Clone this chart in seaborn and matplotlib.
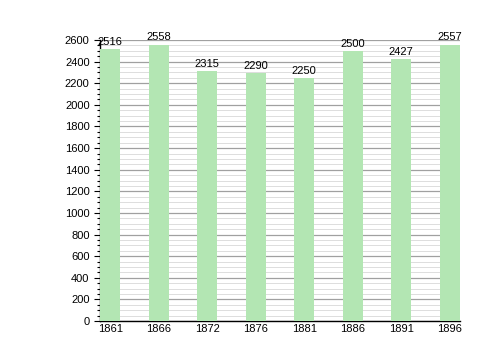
import matplotlib
matplotlib.use("Agg")
import matplotlib.pyplot as plt
import seaborn as sns
import pandas as pd
from matplotlib.ticker import MultipleLocator

years = ["1861", "1866", "1872", "1876", "1881", "1886", "1891", "1896"]
population = [2516, 2558, 2315, 2290, 2250, 2500, 2427, 2557]

df = pd.DataFrame({"year": years, "pop": population})

sns.set_style("white")
plt.rcParams['font.family'] = ['Liberation Sans', 'DejaVu Sans']
plt.rcParams['text.color'] = 'black'
plt.rcParams['xtick.color'] = 'black'
plt.rcParams['ytick.color'] = 'black'

fig = plt.figure(figsize=(5, 3.6), dpi=100)
ax = fig.add_axes([0.2, 0.108, 0.72, 0.781])

sns.barplot(data=df, x="year", y="pop", color="#b3e6b3", saturation=1,
            width=0.42, ax=ax, zorder=3, linewidth=0, edgecolor="none")

ax.set_xlim(-0.21, 7.21)
ax.set_ylim(0, 2600)
ax.yaxis.set_major_locator(MultipleLocator(200))
ax.yaxis.set_minor_locator(MultipleLocator(50))
ax.grid(which="major", axis="y", color="#a0a0a0", linewidth=0.9, zorder=0)
ax.grid(which="minor", axis="y", color="#dddddd", linewidth=0.7, zorder=0)
ax.set_axisbelow(True)

for s in ["top", "right"]:
    ax.spines[s].set_visible(False)
for s in ["left", "bottom"]:
    ax.spines[s].set_color("black")
    ax.spines[s].set_linewidth(1.0)

ax.tick_params(axis="y", which="major", length=4, width=0.8, left=True, labelsize=8,
               color="black", labelcolor="black")
ax.tick_params(axis="y", which="minor", length=2, width=0.8, left=True, color="black")
ax.tick_params(axis="x", length=0, labelsize=8, pad=2, labelcolor="black")
ax.set_xlabel("")
ax.set_ylabel("")

for i, v in enumerate(population):
    ax.text(i, v + 20, str(v), ha="center", va="bottom", fontsize=8, color="black",
            clip_on=False)

fig.savefig("out.png", dpi=100)
